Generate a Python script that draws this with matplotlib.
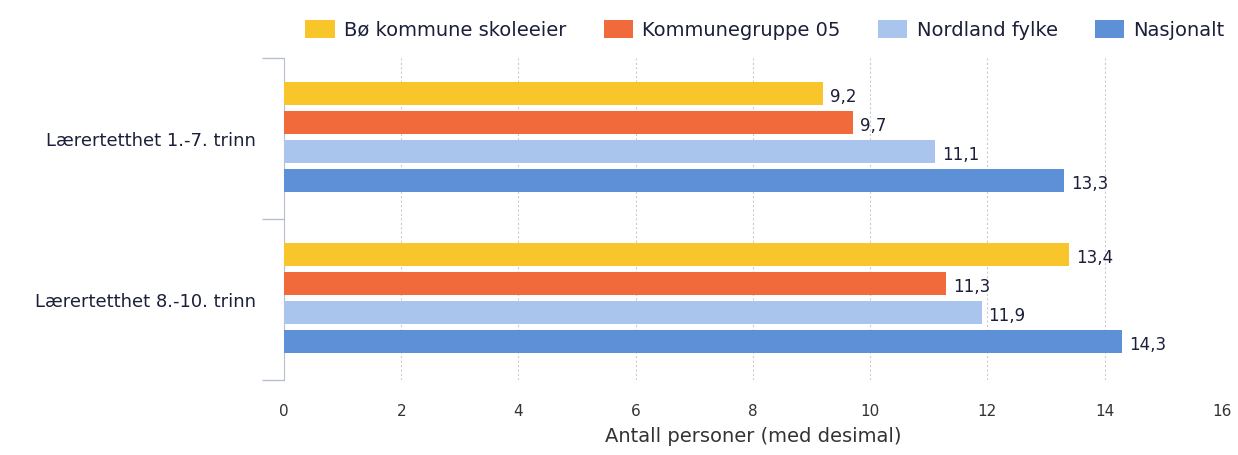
"""Lærertetthet: horizontal grouped bars with value labels."""

import matplotlib.pyplot as plt
from matplotlib.patches import Patch
import numpy as np

categories = ['Lærertetthet 1.-7. trinn', 'Lærertetthet 8.-10. trinn']
series = ['Bø kommune skoleeier', 'Kommunegruppe 05', 'Nordland fylke', 'Nasjonalt']
bo_kommune = [9.2, 13.4]
kommunegruppe = [9.7, 11.3]
nordland = [11.1, 11.9]
nasjonalt = [13.3, 14.3]
x_ticks = [0, 2, 4, 6, 8, 10, 12, 14, 16]

values = [bo_kommune, kommunegruppe, nordland, nasjonalt]
colors = ['#F8C62A', '#F06A3C', '#A9C5EE', '#5E90D8']
TEXT = '#1c1f3a'

fig = plt.figure(figsize=(12.38, 4.55), dpi=100)
ax = fig.add_axes([0.2294, 0.1648, 0.987 - 0.2294, 0.8725 - 0.1648])

pitch = 0.18
height = 0.143
ypos = np.arange(len(categories))
for j, (vals, col) in enumerate(zip(values, colors)):
    offs = ypos + (j - 1.5) * pitch - 0.01
    bars = ax.barh(offs, vals, height=height, color=col, zorder=3)
    for b, v in zip(bars, vals):
        ax.text(b.get_width() + 0.12, b.get_y() + b.get_height() / 2 + 0.025,
                f'{v:.1f}'.replace('.', ','), va='center', ha='left',
                fontsize=12, color=TEXT)

ax.set_xlim(0, 16)
ax.set_ylim(1.5, -0.5)
ax.set_xticks(x_ticks)
ax.set_xticklabels([str(t) for t in x_ticks])
ax.set_yticks(ypos)
ax.set_yticklabels(categories)
ax.set_yticks([-0.5, 0.5, 1.5], minor=True)

ax.tick_params(axis='x', length=0, pad=17, labelsize=11, labelcolor='#333333')
ax.tick_params(axis='y', which='major', length=0, pad=20, labelsize=13,
               labelcolor=TEXT)
ax.tick_params(axis='y', which='minor', length=16, width=1, color='#b8bfd0')

for s in ['top', 'right', 'bottom']:
    ax.spines[s].set_visible(False)
ax.spines['left'].set_color('#b8bfd0')

ax.grid(axis='x', ls=(0, (2, 2)), color='#cccccc', lw=0.8, zorder=0)
ax.set_axisbelow(True)

ax.set_xlabel('Antall personer (med desimal)', fontsize=14, color='#333333',
              labelpad=6)

handles = [Patch(facecolor=c, edgecolor='none') for c in colors]
fig.legend(handles, series, loc='center', bbox_to_anchor=(0.618, 0.935),
           ncol=4, frameon=False, fontsize=14, handlelength=1.5,
           handleheight=1.1, columnspacing=1.9, handletextpad=0.5,
           labelcolor=TEXT)

fig.savefig('out.png', dpi=100)
